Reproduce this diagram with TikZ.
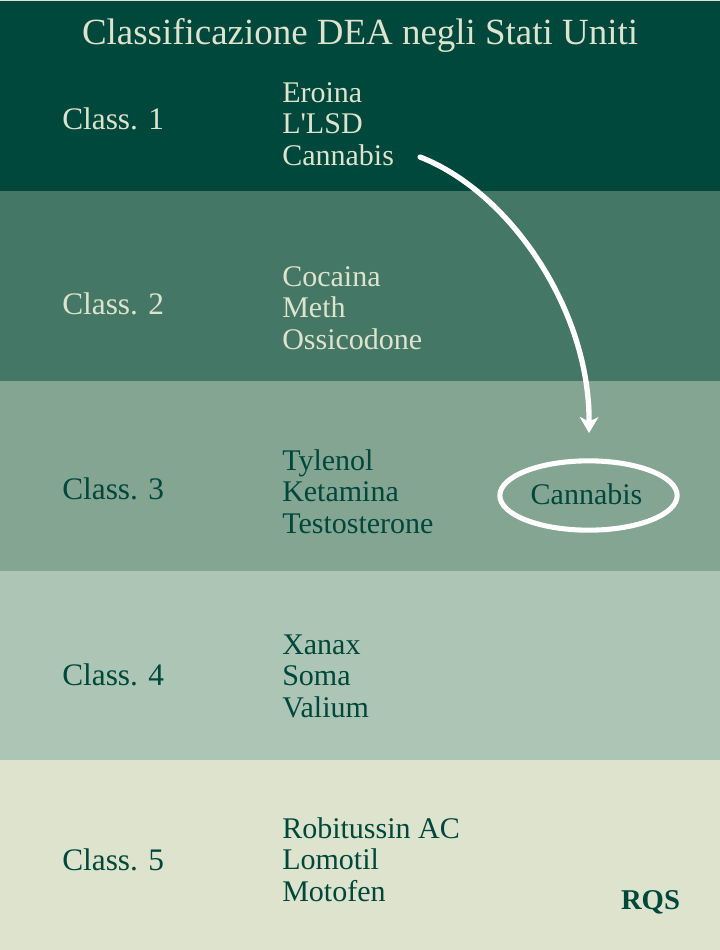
\documentclass[tikz,border=0pt]{standalone}
\usepackage{xcolor}
\usepackage{fontspec}
\setmainfont{Liberation Serif}
\usetikzlibrary{arrows.meta,shapes.geometric}
\definecolor{darkgreen}{HTML}{00473C}
\definecolor{midgreen}{HTML}{457766}
\definecolor{sagegreen}{HTML}{85A593}
\definecolor{palegreen}{HTML}{ADC5B5}
\definecolor{creamgreen}{HTML}{DEE3CD}
\tikzset{
  band/.style={anchor=north west,inner sep=0pt,outer sep=0pt,minimum width=540pt},
  classlabel/.style={anchor=base west,inner sep=0pt,font=\fontsize{23.5}{27}\selectfont},
  drug/.style={anchor=base west,inner sep=0pt,font=\fontsize{22.5}{26}\selectfont},
  whitearrow/.style={white,line width=4pt,line cap=round,-{Stealth[length=12pt,width=14pt,inset=3.5pt]}}
}
\begin{document}
\begin{tikzpicture}[x=0.75pt,y=-0.75pt]
      \useasboundingbox (0,0) rectangle (720,950);
      \fill[creamgreen] (0,0) rectangle (720,950);
      % Bands
      \node[band,fill=darkgreen,minimum height=142.5pt] (B1) at (0,1) {};
      \node[band,fill=midgreen,minimum height=142.5pt] (B2) at (0,191) {};
      \node[band,fill=sagegreen,minimum height=142.5pt] (B3) at (0,381) {};
      \node[band,fill=palegreen,minimum height=141.75pt] (B4) at (0,571) {};
      \node[band,fill=creamgreen,minimum height=142.5pt] (B5) at (0,760) {};
      % Title
      \node[anchor=base,inner sep=0pt,text=creamgreen,font=\fontsize{27.7}{32}\selectfont] (T) at (360,44.5) {Classificazione DEA negli Stati Uniti};
      % Classes
      \node[classlabel,text=creamgreen] (C1) at (62,129.5) {Class. 1};
      \node[classlabel,text=creamgreen] (C2) at (62,314.5) {Class. 2};
      \node[classlabel,text=darkgreen] (C3) at (62,499.5) {Class. 3};
      \node[classlabel,text=darkgreen] (C4) at (62,685.5) {Class. 4};
      \node[classlabel,text=darkgreen] (C5) at (62,870.5) {Class. 5};
      % Drugs
      \node[drug,text=creamgreen] (D1) at (282,102) {Eroina};
      \node[drug,text=creamgreen] (D2) at (282,133.5) {L\textquotesingle LSD};
      \node[drug,text=creamgreen] (D3) at (282,165) {Cannabis};
      \node[drug,text=creamgreen] (D4) at (282,286) {Cocaina};
      \node[drug,text=creamgreen] (D5) at (282,317.5) {Meth};
      \node[drug,text=creamgreen] (D6) at (282,349) {Ossicodone};
      \node[drug,text=darkgreen] (D7) at (282,470) {Tylenol};
      \node[drug,text=darkgreen] (D8) at (282,501.5) {Ketamina};
      \node[drug,text=darkgreen] (D9) at (282,533) {Testosterone};
      \node[drug,text=darkgreen] (D10) at (282,654) {Xanax};
      \node[drug,text=darkgreen] (D11) at (282,685.5) {Soma};
      \node[drug,text=darkgreen] (D12) at (282,717) {Valium};
      \node[drug,text=darkgreen] (D13) at (282,838) {Robitussin AC};
      \node[drug,text=darkgreen] (D14) at (282,869.5) {Lomotil};
      \node[drug,text=darkgreen] (D15) at (282,901) {Motofen};
      % Cannabis moved
      \node[ellipse,draw=white,line width=3.8pt,inner sep=0pt,minimum width=133pt,minimum height=52pt] (E) at (588.5,495.5) {};
      \node[inner sep=0pt,text=darkgreen,font=\fontsize{22.5}{26}\selectfont] (EL) at (586.5,494.5) {Cannabis};
      \node[anchor=base,inner sep=0pt,text=darkgreen,font=\fontsize{21.5}{24}\bfseries\selectfont] (L) at (650.5,909) {RQS};
      \coordinate (S) at (420,157);
      \coordinate (X) at (589,433);
      \draw[whitearrow] (S) .. controls (510,192) and (590,310) .. (X);
    \end{tikzpicture}
\end{document}
